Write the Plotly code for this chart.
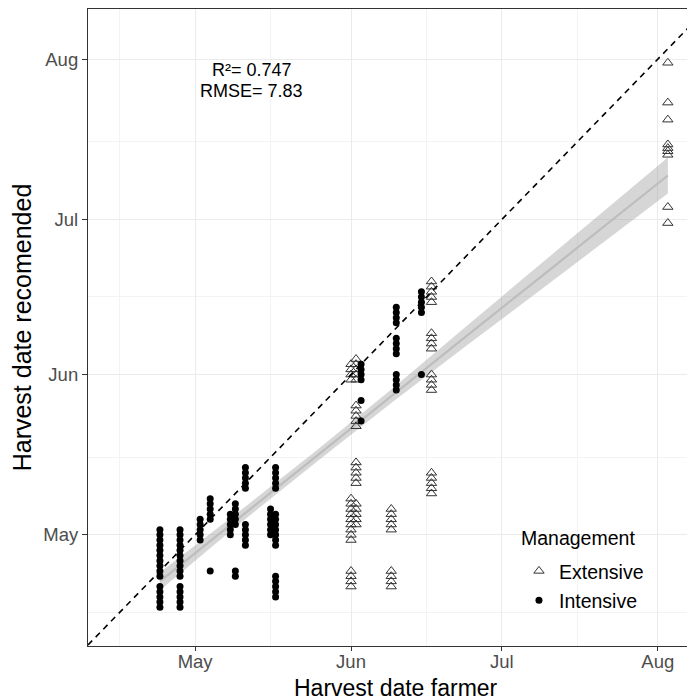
import numpy as np
import pandas as pd
import plotly.graph_objects as go

YEAR_START = pd.Timestamp("2019-01-01")

# Harvest dates as day-of-year (1 May = 121, 1 Jun = 152, 1 Jul = 182, 1 Aug = 213)
# Intensive management: farmer date per column and the recommended dates in that column
int_farmer_doy = [114, 118, 122, 124, 128, 129, 131, 136, 137, 154, 161, 166]
int_recommended_doy = [
    [122, 121, 120, 119, 118, 117, 116, 115, 114, 113, 111, 110, 109, 108, 107],
    [122, 121, 120, 119, 118, 117, 116, 115, 114, 113, 111, 110, 109, 108, 107],
    [124, 123, 122, 121, 120],
    [128, 127, 126, 125, 124, 114],
    [125, 124, 123, 122, 121],
    [127, 126, 125, 124, 123, 114, 113],
    [134, 133, 132, 131, 130, 123, 122, 121, 120, 119],
    [126, 125, 124, 123, 122, 121],
    [134, 133, 132, 131, 130, 125, 124, 123, 122, 121, 120, 119, 113, 112, 111, 110, 109],
    [154, 153, 152, 151, 147, 143],
    [165, 164, 163, 162, 159, 158, 157, 156, 152, 151, 150, 149],
    [168, 167, 166, 165, 164, 152],
]

# Extensive management
ext_farmer_doy = [152, 153, 160, 168, 215]
ext_recommended_doy = [
    [154, 153, 152, 151, 128, 127, 126, 125, 124, 123, 122, 121, 120, 114, 113, 112, 111],
    [155, 154, 153, 152, 151, 146, 145, 144, 143, 142, 135, 134, 133, 132, 131, 127, 126, 125, 124, 123],
    [126, 125, 124, 123, 122, 114, 113, 112, 111],
    [170, 169, 168, 167, 166, 160, 159, 158, 157, 152, 151, 150, 149, 133, 132, 131, 130, 129],
    [212.3, 204.6, 201.3, 196.5, 195.8, 195.2, 194.5, 184.4, 181.3],
]

# Linear-model smooth: fitted recommended DOY and 95% CI half-width (days)
fit_farmer_doy = [114, 130, 145, 160, 175, 190, 205, 215]
fit_recommended_doy = [112.0, 124.5, 136.1, 147.8, 159.5, 171.1, 182.7, 190.5]
fit_ci_halfwidth = [1.7, 1.2, 1.1, 1.3, 1.9, 2.5, 3.1, 3.5]

stats_text = ["R²= 0.747", "RMSE= 7.83"]
legend_title = "Management"
x_title = "Harvest date farmer"
y_title = "Harvest date recomended"
month_ticks = ["2019-05-01", "2019-06-01", "2019-07-01", "2019-08-01"]

X_RANGE_DOY = (99.7, 220.4)
Y_RANGE_DOY = (99.5, 222.7)


def to_date(doy):
    return YEAR_START + pd.to_timedelta(np.asarray(doy, dtype=float) - 1, unit="D")


def flatten(farmers, recs):
    xs, ys = [], []
    for f, col in zip(farmers, recs):
        for r in col:
            xs.append(f)
            ys.append(r)
    return np.array(xs, float), np.array(ys, float)


ix, iy = flatten(int_farmer_doy, int_recommended_doy)
ex, ey = flatten(ext_farmer_doy, ext_recommended_doy)

fx = np.array(fit_farmer_doy, float)
fy = np.array(fit_recommended_doy, float)
fh = np.array(fit_ci_halfwidth, float)

FONT = "Liberation Sans, Arial, sans-serif"

fig = go.Figure()

fig.add_trace(go.Scatter(
    x=to_date(np.concatenate([fx, fx[::-1]])),
    y=to_date(np.concatenate([fy + fh, (fy - fh)[::-1]])),
    fill="toself", fillcolor="rgba(153,153,153,0.4)",
    line=dict(width=0), mode="lines", showlegend=False, hoverinfo="skip"))
fig.add_trace(go.Scatter(
    x=to_date(fx), y=to_date(fy), mode="lines",
    line=dict(color="#bdbdbd", width=2.2), showlegend=False, hoverinfo="skip"))

fig.add_trace(go.Scatter(
    x=to_date(ex), y=to_date(ey), mode="markers", name="Extensive",
    legendgroup="ext",
    marker=dict(symbol="triangle-up-open", size=9, color="#333333",
                line=dict(width=1, color="#333333"))))
fig.add_trace(go.Scatter(
    x=to_date(ix), y=to_date(iy), mode="markers", name="Intensive",
    legendgroup="int",
    marker=dict(symbol="circle", size=7, color="black")))

# 1:1 line
lim = [max(X_RANGE_DOY[0], Y_RANGE_DOY[0]), min(X_RANGE_DOY[1], Y_RANGE_DOY[1])]
fig.add_trace(go.Scatter(
    x=to_date(lim), y=to_date(lim), mode="lines",
    line=dict(color="black", width=1.6, dash="6px,5px"),
    showlegend=False, hoverinfo="skip", cliponaxis=True))

axis_common = dict(
    type="date", tickvals=month_ticks, tickformat="%b",
    ticks="outside", ticklen=5, tickcolor="#333333", tickwidth=1,
    tickfont=dict(family=FONT, size=18.5, color="#4d4d4d"),
    showline=True, linecolor="#333333", linewidth=1.2, mirror=True,
    showgrid=True, gridcolor="#ebebeb", gridwidth=1.3, zeroline=False,
    minor=dict(tick0="2019-04-16", dtick="M1", showgrid=True,
               gridcolor="#f3f3f3", gridwidth=1, ticks=""),
)

fig.update_layout(
    width=695, height=700,
    margin=dict(l=80, r=8, t=1, b=62),
    plot_bgcolor="white", paper_bgcolor="white",
    font=dict(family=FONT, color="black"),
    xaxis=dict(axis_common, ticklen=4, ticklabelstandoff=-5,
               range=[to_date(X_RANGE_DOY[0]), to_date(X_RANGE_DOY[1])]),
    yaxis=dict(axis_common,
               range=[to_date(Y_RANGE_DOY[0]), to_date(Y_RANGE_DOY[1])],
               title=dict(text=y_title,
                          font=dict(family=FONT, size=25, color="black"),
                          standoff=8)),
    legend=dict(x=0.71, y=0.148, xanchor="left", yanchor="top",
                bgcolor="rgba(255,255,255,0)", borderwidth=0,
                font=dict(family=FONT, size=19.5, color="black"),
                tracegroupgap=1),
    shapes=[dict(type="rect", xref="paper", yref="paper",
                 x0=0.695, x1=0.995, y0=0.041, y1=0.2025,
                 fillcolor="white", line=dict(width=0), layer="below")],
    annotations=[
        dict(x=0.27, y=0.904, xref="paper", yref="paper", xanchor="center", yanchor="middle",
             text=stats_text[0], showarrow=False,
             font=dict(family=FONT, size=18, color="black")),
        dict(x=0.27, y=0.871, xref="paper", yref="paper", xanchor="center", yanchor="middle",
             text=stats_text[1], showarrow=False,
             font=dict(family=FONT, size=18, color="black")),
        dict(x=0.71, y=0.17, xref="paper", yref="paper", xanchor="left", yanchor="middle",
             text=legend_title, showarrow=False,
             font=dict(family=FONT, size=19.5, color="black")),
        dict(x=0.507, y=-0.0652, xref="paper", yref="paper", xanchor="center", yanchor="middle",
             text=x_title, showarrow=False,
             font=dict(family=FONT, size=23, color="black")),
    ],
)

fig.write_html("out.html")
